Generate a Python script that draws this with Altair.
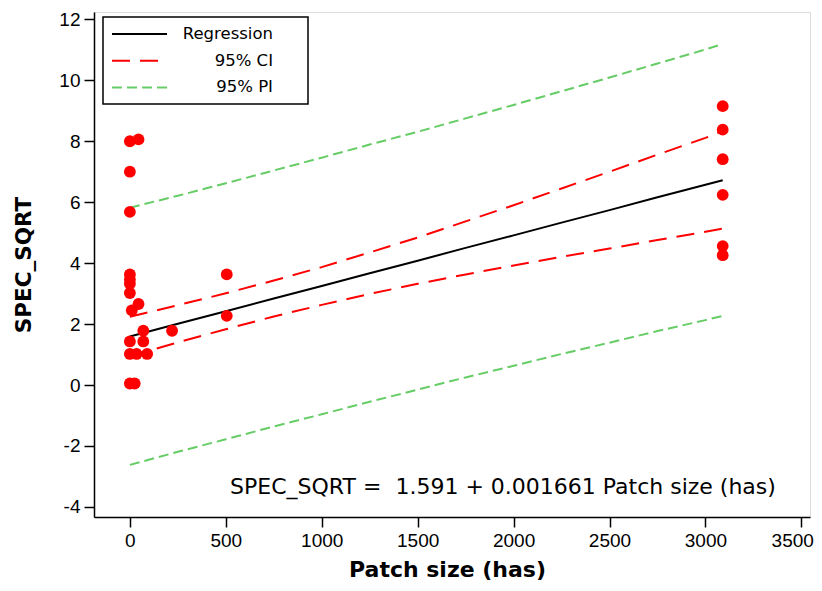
import altair as alt
import pandas as pd

# ---- data ----
pt_x = [0, 45, 0, 0, 0, 0, 0, 0, 45, 10, 505, 505, 70, 220, 0, 70, 0, 35, 90, 0, 25,
        3090, 3090, 3090, 3090, 3090, 3090]
pt_y = [8.0, 8.06, 7.0, 5.68, 3.63, 3.46, 3.32, 3.02, 2.66, 2.45, 3.63, 2.27, 1.78, 1.78,
        1.43, 1.43, 1.02, 1.02, 1.02, 0.05, 0.05,
        9.15, 8.38, 7.41, 6.24, 4.56, 4.26]

line_x = [0, 250, 500, 750, 1000, 1250, 1500, 1750, 2000, 2250, 2500, 2750, 3000, 3090]
reg_y = [1.59, 2.01, 2.42, 2.84, 3.25, 3.67, 4.08, 4.50, 4.91, 5.33, 5.74, 6.16, 6.57, 6.72]
ci_up = [2.24, 2.62, 3.01, 3.43, 3.87, 4.35, 4.84, 5.37, 5.90, 6.45, 7.00, 7.56, 8.11, 8.33]
ci_lo = [0.94, 1.40, 1.83, 2.25, 2.63, 2.99, 3.32, 3.63, 3.92, 4.21, 4.48, 4.76, 5.03, 5.13]
pi_up = [5.82, 6.21, 6.62, 7.04, 7.46, 7.89, 8.31, 8.75, 9.19, 9.64, 10.09, 10.55, 11.01, 11.19]
pi_lo = [-2.62, -2.19, -1.78, -1.36, -0.96, -0.55, -0.15, 0.25, 0.63, 1.02, 1.39, 1.77, 2.13, 2.27]

x_ticks = [0, 500, 1000, 1500, 2000, 2500, 3000, 3500]
y_ticks = [-4, -2, 0, 2, 4, 6, 8, 10, 12]

leg_labels = ["Regression", "95% CI", "95% PI"]
leg_colors = ["#000000", "#FF0000", "#66CC66"]
leg_dash = [[1, 0], [18, 10], [10, 5]]

equation = "SPEC_SQRT =\u00a0\u00a01.591 + 0.001661 Patch size (has)"

FONT = "DejaVu Sans"
LFONT = "Liberation Sans"
W, H = 716, 505

xs = alt.Scale(domain=[-187, 3545], nice=False, zero=False)
ys = alt.Scale(domain=[-4.33, 12.24], nice=False, zero=False)

pts = pd.DataFrame({"x": pt_x, "y": pt_y})
rows = []
for name, up, lo in [("CI", ci_up, ci_lo), ("PI", pi_up, pi_lo)]:
    for side, vals in [("up", up), ("lo", lo)]:
        for xv, yv in zip(line_x, vals):
            rows.append({"band": name, "side": side, "x": xv, "y": yv})
bands = pd.DataFrame(rows)
reg = pd.DataFrame({"x": line_x, "y": reg_y})

common_axis = dict(grid=False, tickSize=10, labelFontSize=19, titleFontWeight="bold",
                   labelPadding=4, domainColor="black", tickColor="black",
                   domainWidth=1.5, tickWidth=1.5, labelColor="black",
                   titleColor="black", labelFont=LFONT, titleFont=FONT,
                   labelExpr="datum.value + ''")
xenc = alt.X("x:Q", scale=xs, title="Patch size (has)",
             axis=alt.Axis(values=x_ticks, titleFontSize=22, titlePadding=9,
                           titleX=353, labelFlush=10, labelFlushOffset=12,
                           **common_axis))
yenc = alt.Y("y:Q", scale=ys, title="SPEC_SQRT",
             axis=alt.Axis(values=y_ticks, titleFontSize=21.5, titlePadding=23, **common_axis))

pi_layer = alt.Chart(bands[bands.band == "PI"]).mark_line(
    color=leg_colors[2], strokeWidth=2, strokeDash=leg_dash[2]
).encode(x=xenc, y=yenc, detail="side:N")

ci_layer = alt.Chart(bands[bands.band == "CI"]).mark_line(
    color=leg_colors[1], strokeWidth=2, strokeDash=leg_dash[1]
).encode(x=alt.X("x:Q", scale=xs), y=alt.Y("y:Q", scale=ys), detail="side:N")

reg_layer = alt.Chart(reg).mark_line(color="black", strokeWidth=2).encode(
    x=alt.X("x:Q", scale=xs), y=alt.Y("y:Q", scale=ys))

pt_layer = alt.Chart(pts).mark_circle(color="#FF0000", opacity=1, size=140).encode(
    x=alt.X("x:Q", scale=xs), y=alt.Y("y:Q", scale=ys))

one = pd.DataFrame({"a": [0]})
eq_layer = alt.Chart(one).mark_text(
    text=equation, font=FONT, fontSize=22, color="black", align="center", baseline="middle"
).encode(x=alt.value(409), y=alt.value(475))

box = alt.Chart(one).mark_rect(fill="white", stroke="black", strokeWidth=1.5).encode(
    x=alt.value(9), x2=alt.value(214), y=alt.value(5), y2=alt.value(92))

legend_layers = [box]
for i, (lab, col, dash) in enumerate(zip(leg_labels, leg_colors, leg_dash)):
    yy = 22 + i * 26.7
    legend_layers.append(
        alt.Chart(one).mark_rule(color=col, strokeWidth=2, strokeDash=dash).encode(
            x=alt.value(18), x2=alt.value(73), y=alt.value(yy)))
    legend_layers.append(
        alt.Chart(one).mark_text(text=lab, font=FONT, fontSize=16.5, color="black",
                                 align="right", baseline="middle").encode(
            x=alt.value(179), y=alt.value(yy)))

chart = alt.layer(pi_layer, ci_layer, reg_layer, pt_layer, eq_layer, *legend_layers).properties(
    width=W, height=H,
    autosize=alt.AutoSizeParams(type="none"),
    padding={"left": 86, "top": 4, "right": 4, "bottom": 70},
).configure_view(stroke="black", strokeWidth=1.5).configure(background="white")

chart.save("out.html", embed_options={"renderer": "svg", "actions": False})
